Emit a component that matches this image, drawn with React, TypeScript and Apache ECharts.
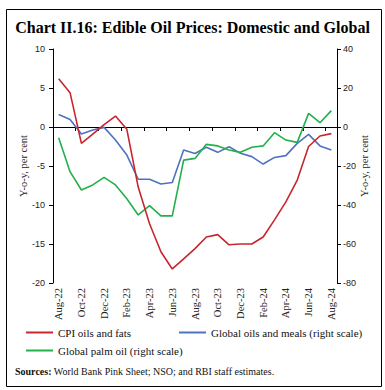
import React, { useEffect, useRef } from "react";
import * as echarts from "echarts";

const months = [
  "Aug-22", "Sep-22", "Oct-22", "Nov-22", "Dec-22", "Jan-23", "Feb-23", "Mar-23", "Apr-23",
  "May-23", "Jun-23", "Jul-23", "Aug-23", "Sep-23", "Oct-23", "Nov-23", "Dec-23", "Jan-24",
  "Feb-24", "Mar-24", "Apr-24", "May-24", "Jun-24", "Jul-24", "Aug-24",
];

const cpiOilsFats = [
  6.2, 4.4, -2.1, -0.9, 0.3, 1.4, -0.3, -7.7, -12.4, -16.0, -18.2, -16.9, -15.6,
  -14.1, -13.8, -15.1, -15.0, -15.0, -14.1, -11.9, -9.6, -6.8, -2.5, -1.15, -0.85,
];

const globalOilsMeals = [
  6.4, 3.9, -3.6, -1.5, -0.2, -6.7, -14.4, -26.8, -26.8, -29.2, -28.5, -11.8, -13.6,
  -10.4, -13.0, -10.1, -13.5, -15.2, -19.0, -15.6, -14.7, -8.4, -3.8, -9.7, -11.8,
];

const globalPalmOil = [
  -5.5, -22.9, -32.3, -29.7, -25.8, -29.7, -36.8, -45.1, -40.3, -45.6, -45.6, -17.0, -16.1,
  -8.9, -9.7, -11.8, -13.0, -10.4, -9.7, -2.9, -6.7, -7.9, 7.0, 2.2, 8.4,
];

const seriesNames = [
  "CPI oils and fats",
  "Global oils and meals (right scale)",
  "Global palm oil (right scale)",
];

const colors = ["#C8262D", "#4F72C0", "#22B04B"];

const titleText = "Chart II.16: Edible Oil Prices: Domestic and Global";
const axisName = "Y-o-y, per cent";

export default function App() {
  const ref = useRef<HTMLDivElement>(null);

  useEffect(() => {
    if (!ref.current) return;
    const chart = echarts.init(ref.current, undefined, { renderer: "svg" });
    const serif = "Liberation Serif";
    const sans = "Liberation Sans";
    const legendBase = {
      icon: "rect",
      itemWidth: 27,
      itemHeight: 2,
      padding: 0,
      textStyle: { fontFamily: serif, fontSize: 11, color: "#111" },
    };
    chart.setOption({
      animation: false,
      backgroundColor: "#fff",
      title: {
        text: titleText,
        left: "center",
        top: 14,
        textStyle: { fontFamily: serif, fontSize: 16, fontWeight: "bold", color: "#000" },
      },
      grid: { left: 53, right: 48, top: 49, bottom: 107, containLabel: false },
      legend: [
        { ...legendBase, data: [seriesNames[0]], left: 26, top: 327 },
        { ...legendBase, data: [seriesNames[1]], left: 179, top: 327 },
        { ...legendBase, data: [seriesNames[2]], left: 26, top: 345 },
      ],
      xAxis: [
        {
          type: "category",
          data: months,
          boundaryGap: true,
          position: "bottom",
          axisLine: { show: false, onZero: false },
          axisTick: { show: false },
          axisLabel: {
            interval: 1,
            rotate: 90,
            margin: 5,
            fontFamily: serif,
            fontSize: 10.5,
            color: "#222",
          },
          splitLine: { show: false },
        },
        {
          type: "category",
          data: months,
          boundaryGap: true,
          position: "bottom",
          axisLine: { show: true, onZero: true, onZeroAxisIndex: 0, lineStyle: { color: "#000", width: 1 } },
          axisTick: { show: true, interval: 1, length: 4, lineStyle: { color: "#000" } },
          axisLabel: { show: false },
          splitLine: { show: false },
        },
      ],
      yAxis: [
        {
          type: "value",
          min: -20,
          max: 10,
          interval: 5,
          position: "left",
          name: axisName,
          nameLocation: "middle",
          nameRotate: 90,
          nameGap: 24,
          nameMoveOverlap: false,
          nameTextStyle: { fontFamily: serif, fontSize: 10.5, color: "#222" },
          axisLine: { show: true, lineStyle: { color: "#000", width: 1 } },
          axisTick: { show: true, length: 4, lineStyle: { color: "#000" } },
          axisLabel: { fontFamily: sans, fontSize: 9, color: "#222", margin: 8 },
          splitLine: { show: false },
        },
        {
          type: "value",
          min: -80,
          max: 40,
          interval: 20,
          position: "right",
          name: axisName,
          nameLocation: "middle",
          nameRotate: 90,
          nameGap: 22,
          nameMoveOverlap: false,
          nameTextStyle: { fontFamily: serif, fontSize: 10.5, color: "#222" },
          axisLine: { show: true, lineStyle: { color: "#000", width: 1 } },
          axisTick: { show: true, length: 4, lineStyle: { color: "#000" } },
          axisLabel: { fontFamily: sans, fontSize: 9, color: "#222", margin: 6 },
          splitLine: { show: false },
        },
      ],
      series: [
        {
          name: seriesNames[0],
          type: "line",
          xAxisIndex: 0,
          yAxisIndex: 0,
          data: cpiOilsFats,
          symbol: "none",
          lineStyle: { color: colors[0], width: 1.6 },
          itemStyle: { color: colors[0] },
          z: 3,
        },
        {
          name: seriesNames[1],
          type: "line",
          xAxisIndex: 0,
          yAxisIndex: 1,
          data: globalOilsMeals,
          symbol: "none",
          lineStyle: { color: colors[1], width: 1.6 },
          itemStyle: { color: colors[1] },
          z: 2,
        },
        {
          name: seriesNames[2],
          type: "line",
          xAxisIndex: 0,
          yAxisIndex: 1,
          data: globalPalmOil,
          symbol: "none",
          lineStyle: { color: colors[2], width: 1.6 },
          itemStyle: { color: colors[2] },
          z: 2,
        },
      ],
      graphic: [
        {
          type: "rect",
          shape: { x: 6.5, y: 9.5, width: 375, height: 377 },
          style: { fill: "none", stroke: "#000", lineWidth: 1 },
          z: -1,
          silent: true,
        },
        {
          type: "text",
          left: 15,
          top: 366,
          style: {
            text: "{b|Sources:} World Bank Pink Sheet; NSO; and RBI staff estimates.",
            fontFamily: serif,
            fontSize: 10,
            fill: "#111",
            rich: {
              b: { fontFamily: serif, fontSize: 10, fontWeight: "bold", fill: "#111" },
            },
          },
        },
      ],
    });
    return () => chart.dispose();
  }, []);

  return (
    <div style={{ position: "absolute", left: 0, top: 0, width: 385, height: 390, background: "#fff" }}>
      <div ref={ref} style={{ width: 385, height: 390 }} />
    </div>
  );
}
